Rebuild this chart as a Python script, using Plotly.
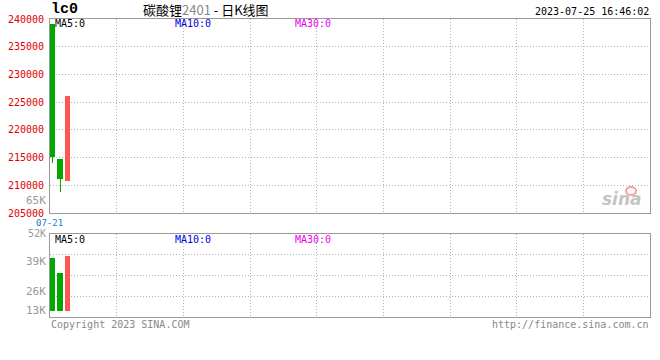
import plotly.graph_objects as go

# ---- data ----
dates = ["07-21", "07-24", "07-25"]
opens = [239100, 214700, 210800]
highs = [239100, 214700, 226150]
lows = [214100, 208850, 210800]
closes = [215100, 211200, 226150]
volumes = [36000, 25500, 37300]
price_ticks = [205000, 210000, 215000, 220000, 225000, 230000, 235000, 240000]
vol_labels = ["52K", "39K", "26K", "13K"]

W, H = 660, 360
L, R = 50, 10
GREEN = "#00A800"
RED = "#FF5555"
MONO = "DejaVu Sans Mono"
GRID = "#b4b4b4"
DOT = "1px,2px"

def px(x, y):
    return (x - L) / (W - L - R), 1 - y / H

idx = list(range(len(dates)))
colors = [RED if c >= o else GREEN for o, c in zip(opens, closes)]
body_base = [min(o, c) for o, c in zip(opens, closes)]
body_h = [max(abs(c - o), 60) for o, c in zip(opens, closes)]
wick_h = [h - l for h, l in zip(highs, lows)]

fig = go.Figure()
fig.add_trace(go.Bar(x=idx, y=wick_h, base=lows, width=0.14, marker_color=colors,
                     marker_line_width=0, xaxis="x", yaxis="y", hoverinfo="skip"))
fig.add_trace(go.Bar(x=idx, y=body_h, base=body_base, width=0.74, marker_color=colors,
                     marker_line_width=0, xaxis="x", yaxis="y", hoverinfo="skip"))
fig.add_trace(go.Bar(x=idx, y=volumes, base=0, width=0.74, marker_color=colors,
                     marker_line_width=0, xaxis="x2", yaxis="y2", hoverinfo="skip"))

xr = [-0.365, 80.635]
common_x = dict(range=xr, showgrid=True, gridcolor=GRID, griddash=DOT, gridwidth=1,
                tick0=-0.365, dtick=9, showticklabels=False, zeroline=False,
                showline=True, linecolor="#999999", linewidth=1, mirror=True, ticks="",
                automargin=False)

fig.update_layout(
    width=W, height=H, margin=dict(l=L, r=R, t=0, b=0, autoexpand=False),
    paper_bgcolor="white", plot_bgcolor="white", showlegend=False,
    barmode="overlay", bargap=0, hovermode=False,
    xaxis=dict(**common_x, anchor="y"),
    xaxis2=dict(**common_x, anchor="y2"),
    yaxis=dict(domain=[1 - 213 / H, 1 - 19 / H], range=[205000, 240000],
               tickvals=price_ticks, ticktext=[str(v) for v in price_ticks],
               tickfont=dict(family=MONO, size=10, color="#E00000"),
               showgrid=True, gridcolor=GRID, griddash=DOT, zeroline=False,
               showline=True, linecolor="#999999", linewidth=1, mirror=True, ticks="",
               ticklabelstandoff=3, automargin=False),
    yaxis2=dict(domain=[1 - 317 / H, 1 - 234 / H], range=[-4050, 52000],
                tick0=-4050, dtick=14012.5, showticklabels=False,
                showgrid=True, gridcolor=GRID, griddash=DOT, zeroline=False,
                showline=True, linecolor="#999999", linewidth=1, mirror=True, ticks="",
                automargin=False),
)

ann = []
def text(x, y, t, color="#000", size=10, xanchor="left", family=MONO, **kw):
    xp, yp = px(x, y)
    ann.append(dict(x=xp, y=yp, xref="paper", yref="paper", text=t, showarrow=False,
                    xanchor=xanchor, yanchor="middle", borderpad=0,
                    font=dict(family=family, size=size, color=color), **kw))

text(50, 9, "<b>lc0</b>", size=15, family="Liberation Mono")
text(206, 9, '碳酸锂<span style="color:#888888">2401</span> - 日K线图', size=13,
     xanchor="center", family="Noto Sans CJK SC")
text(650, 12, "2023-07-25 16:46:02", xanchor="right")
for y in (24, 239):
    text(54, y, "MA5:0", color="#000000")
    text(174, y, "MA10:0", color="#0000DD")
    text(294, y, "MA30:0", color="#EE00EE")
text(47, 200, "65K", color="#999999", xanchor="right", size=11)
for lab, y in zip(vol_labels, (233, 261, 291, 310)):
    text(47, y, lab, color="#999999", xanchor="right", size=10 if lab == "52K" else 11)
text(49, 222.5, dates[0], color="#1a7fd0", xanchor="center", size=9)
text(50, 324, "Copyright 2023 SINA.COM", color="#888888")
text(650, 324, "http://finance.sina.com.cn", color="#888888", xanchor="right")
text(622, 199, "<b><i>sina</i></b>", color="#c4c4c4", size=17, xanchor="center",
     family="DejaVu Sans")
fig.update_layout(annotations=ann)

# sina logo eye
cx, cy = px(631, 191)
fig.add_shape(type="circle", xref="paper", yref="paper",
              x0=cx - 5 / 600, x1=cx + 5 / 600, y0=cy - 4 / 360, y1=cy + 4 / 360,
              line=dict(color="#f3a0a0", width=2), fillcolor="rgba(0,0,0,0)")

fig.write_html("out.html", config={"displayModeBar": False, "staticPlot": True},
               post_script="document.body.style.margin='0';document.body.style.padding='0';")
